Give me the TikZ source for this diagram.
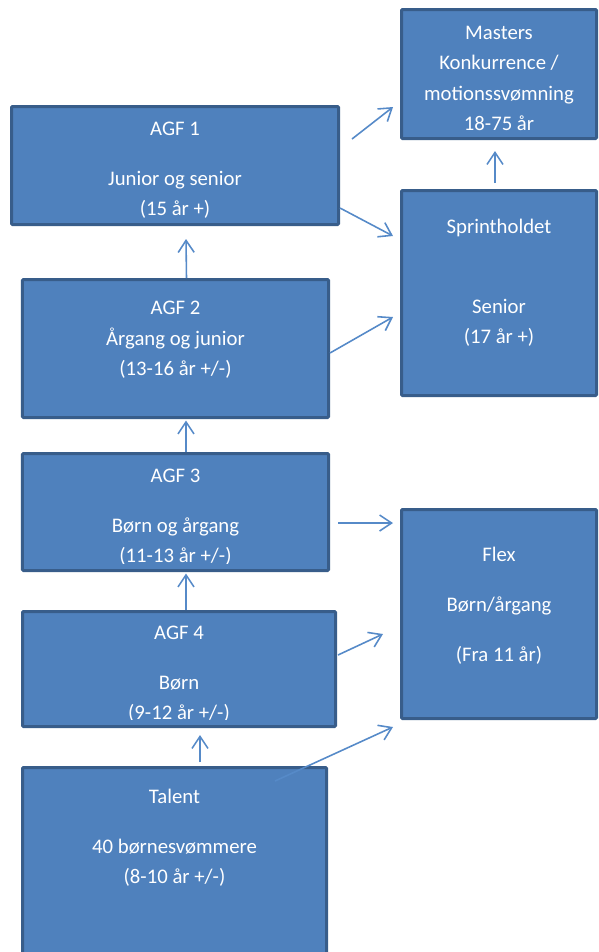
\documentclass[tikz,border=0pt]{standalone}
\usepackage{fontspec}
\setmainfont{Carlito}
\usetikzlibrary{arrows.meta,positioning}
\definecolor{office}{RGB}{79,129,189}
\definecolor{officedark}{RGB}{56,93,138}
\definecolor{officeline}{RGB}{86,138,200}
\tikzset{
  >={Straight Barb[length=2.4mm,width=3.2mm]},
  tbox/.style={draw=officedark,fill=office,line width=0.06cm,rounded corners=0.6pt,
    minimum width=#1,inner sep=0pt},
  tbox/.default=3.9cm,
  ttext/.style={text=white,align=center,inner sep=0pt,font=\fontsize{11.8}{17.2}\selectfont},
  link/.style={->,draw=officeline,line width=0.9pt},
}

\begin{document}
\begin{tikzpicture}
    \useasboundingbox (0,0) rectangle (11.98,-19.04);
    % boxes
    \node[tbox,minimum height=2.58cm] (masters) at (9.98,-1.48) {};
    \node[tbox=6.54cm,minimum height=2.36cm] (agf1) at (3.50,-3.31) {};
    \node[tbox,minimum height=4.10cm] (sprint) at (9.98,-5.86) {};
    \node[tbox=6.12cm,minimum height=2.76cm] (agf2) at (3.51,-6.97) {};
    \node[tbox=6.12cm,minimum height=2.34cm] (agf3) at (3.51,-10.24) {};
    \node[tbox,minimum height=4.18cm] (flex) at (9.98,-12.28) {};
    \node[tbox=6.26cm,minimum height=2.30cm] (agf4) at (3.58,-13.38) {};
    \node[tbox=6.08cm,minimum height=3.82cm] (talent) at (3.49,-17.26) {};
    % texts
    \node[ttext,below=0.36cm of masters.north] (masters-t) {Masters\\ Konkurrence /\\ motionssvømning\\ 18-75 år};
    \node[ttext,below=0.34cm of agf1.north] (agf1-t) {AGF 1\\[11.1pt] Junior og senior\\ (15 år +)};
    \node[ttext,below=0.6cm of sprint.north] (sprint-t) {Sprintholdet\\[28.2pt] Senior\\ (17 år +)};
    \node[ttext,below=0.46cm of agf2.north] (agf2-t) {AGF 2\\ Årgang og junior\\ (13-16 år +/-)};
    \begin{scope}
      \clip (agf3.north west) rectangle ([yshift=0.17cm]agf3.south east);
      \node[ttext,below=0.34cm of agf3.north] (agf3-t) {AGF 3\\[11.1pt] Børn og årgang\\ (11-13 år +/-)};
    \end{scope}
    \node[ttext,below=0.78cm of flex.north] (flex-t) {Flex\\[11.1pt] Børn/årgang\\[11.1pt] (Fra 11 år)};
    \begin{scope}
      \clip (agf4.north west) rectangle ([yshift=0.17cm]agf4.south east);
      \node[ttext,below=0.32cm of agf4.north] (agf4-t) {AGF 4\\[11.1pt] Børn\\ (9-12 år +/-)};
    \end{scope}
    \node[ttext,below=0.46cm of talent.north] (talent-t) {Talent\\[11.1pt] 40 børnesvømmere\\ (8-10 år +/-)};
    % arrows
    \draw[link] ([shift={(0.24,-0.68)}]agf1.north east) -- ([shift={(-0.14,0.66)}]masters.south west);
    \draw[link] ([shift={(0,0.36)}]agf1.south east) -- ([shift={(-0.14,-0.94)}]sprint.north west);
    \draw[link] ([shift={(-0.08,0.12)}]sprint.north) -- ([shift={(-0.08,-0.22)}]masters.south);
    \draw[link] ([xshift=0.22cm]agf2.north) -- ([shift={(0.22,-0.26)}]agf1.south);
    \draw[link] ([shift={(0,-0.09)}]agf2.east) -- ([shift={(-0.14,-0.48)}]sprint.west);
    \draw[link] ([xshift=0.21cm]agf3.north) -- ([shift={(0.21,-0.03)}]agf2.south);
    \draw[link] ([shift={(0.16,-0.22)}]agf3.east) -- ([shift={(-0.14,-0.3)}]flex.north west);
    \draw[link] ([xshift=0.14cm]agf4.north) -- ([shift={(0.21,-0.03)}]agf3.south);
    \draw[link] ([shift={(0.02,0.28)}]agf4.east) -- ([shift={(-0.34,-0.4)}]flex.west);
    \draw[link] ([shift={(0.51,0.08)}]talent.north) -- ([shift={(0.42,-0.14)}]agf4.south);
    \draw[link] ([shift={(-1.06,-0.3)}]talent.north east) -- ([shift={(-0.14,-0.14)}]flex.south west);
\end{tikzpicture}
\end{document}
